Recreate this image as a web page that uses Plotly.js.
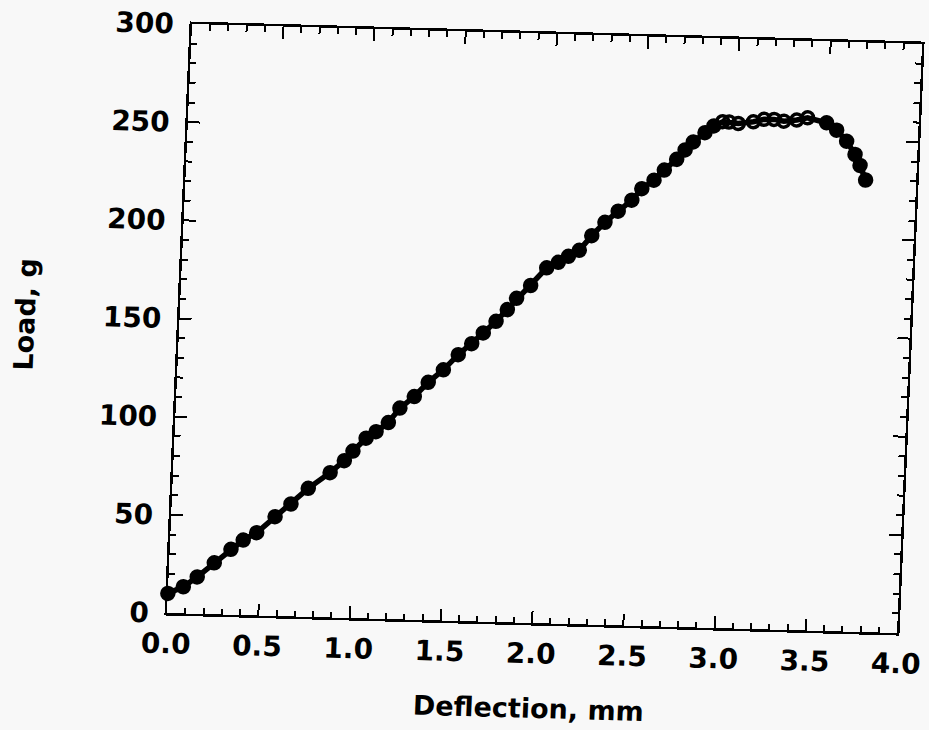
<!DOCTYPE html>
<html>
<head>
<meta charset="utf-8">
<script src="https://cdn.plot.ly/plotly-3.0.1.min.js"></script>
<style>
  html, body { margin: 0; padding: 0; background: #f8f8f8; overflow: hidden; }
  #chart { width: 950px; height: 730px; transform-origin: 0 0;
           transform: matrix(1, 0.0274, -0.0424, 1, 13.4, -13.9); }
</style>
</head>
<body>
<div id="chart"></div>
<script>
// Deflection (mm)
const deflection = [0.00, 0.083, 0.157, 0.247, 0.335, 0.40, 0.472, 0.569, 0.653, 0.744,
  0.86, 0.935, 0.98, 1.049, 1.102, 1.167, 1.227, 1.303, 1.376, 1.456,
  1.534, 1.605, 1.666, 1.733, 1.792, 1.84, 1.914, 1.998, 2.06, 2.114,
  2.172, 2.237, 2.306, 2.376, 2.448, 2.50, 2.565, 2.619, 2.684, 2.728,
  2.771, 2.833, 2.88, 2.927, 2.963, 3.013, 3.095, 3.153, 3.208, 3.262,
  3.332, 3.391, 3.496, 3.553, 3.61, 3.659, 3.689, 3.723];
// Load (g)
const load = [10.0, 13.6, 18.8, 26.2, 33.3, 38.2, 42.1, 50.5, 57.2, 65.4,
  73.7, 80.0, 85.0, 91.7, 95.2, 100.0, 107.5, 113.6, 121.0, 127.6,
  135.5, 141.3, 146.9, 153.0, 159.1, 165.0, 171.7, 180.9, 183.9, 187.1,
  190.3, 197.9, 204.9, 210.7, 216.5, 222.5, 227.0, 232.3, 237.9, 242.8,
  247.0, 251.9, 255.4, 257.7, 257.6, 257.0, 258.1, 259.5, 259.6, 258.8,
  259.6, 260.9, 258.6, 255.0, 249.5, 242.9, 237.4, 230.0];

const xTitle = 'Deflection, mm';
const yTitle = 'Load, g';

// open markers on the flat top, filled elsewhere
const symbols = deflection.map(v => (v >= 2.9 && v <= 3.45) ? 'circle-open' : 'circle');

const font = { family: 'DejaVu Sans, Arial, sans-serif', color: '#000', weight: 'bold' };

const axisCommon = {
  showgrid: false, zeroline: false,
  showline: true, linecolor: '#000', linewidth: 2.5, mirror: 'allticks',
  ticks: 'inside', ticklen: 12, tickwidth: 2, tickcolor: '#000',
  ticklabeloverflow: 'allow',
  tickfont: Object.assign({}, font, { size: 28 }),
};

const trace = {
  x: deflection, y: load, type: 'scatter', mode: 'lines+markers',
  line: { color: '#000', width: 5.5 },
  marker: { color: '#000', size: 12, symbol: symbols, line: { color: '#000', width: 3.5 } },
  cliponaxis: false, showlegend: false
};

const layout = {
  width: 950, height: 730,
  margin: { l: 180, r: 40, t: 33, b: 108 },
  paper_bgcolor: '#f8f8f8', plot_bgcolor: '#f8f8f8',
  xaxis: Object.assign({}, axisCommon, {
    range: [0, 4], dtick: 0.5, tick0: 0, tickformat: '.1f',
    ticklabelstandoff: 4,
    minor: { dtick: 0.1, ticks: 'inside', ticklen: 6, tickwidth: 2, tickcolor: '#000', showgrid: false },
    title: { text: xTitle, font: Object.assign({}, font, { size: 27 }), standoff: 30 }
  }),
  yaxis: Object.assign({}, axisCommon, {
    range: [0, 300], dtick: 50, tick0: 0,
    ticklabelstandoff: 10,
    minor: { dtick: 10, ticks: 'inside', ticklen: 6, tickwidth: 2, tickcolor: '#000', showgrid: false },
    title: { text: yTitle, font: Object.assign({}, font, { size: 27 }), standoff: 60 }
  })
};

Plotly.newPlot('chart', [trace], layout, { displayModeBar: false, staticPlot: true });
</script>
</body>
</html>
